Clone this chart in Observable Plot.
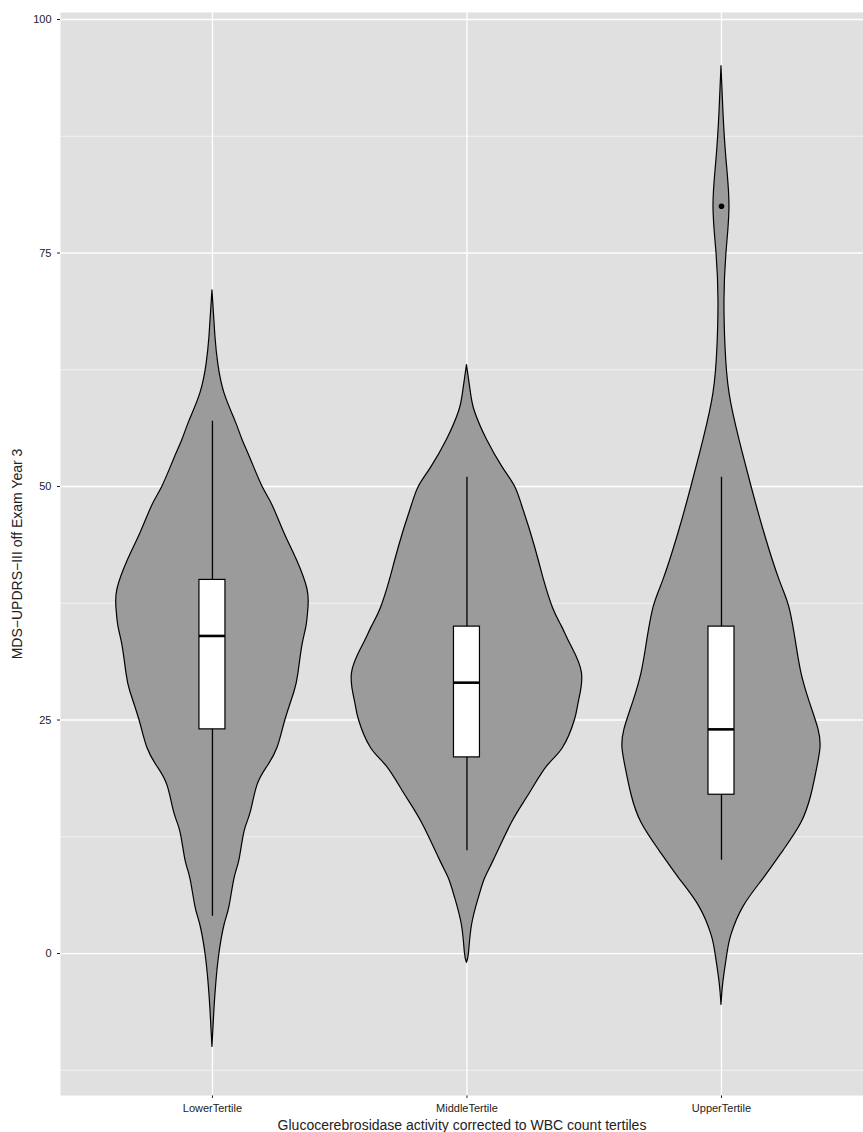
<!DOCTYPE html>
<html><head><meta charset="utf-8">
<script src="https://cdn.jsdelivr.net/npm/d3@7"></script>
<script src="https://cdn.jsdelivr.net/npm/@observablehq/plot@0.6"></script>
<style>body{margin:0;background:#fff;font-family:"Liberation Sans",Arial,sans-serif}
svg [aria-label$="axis label"] text{font-size:14px}</style>
</head><body><div id="chart"></div>
<script>
const categories = ["LowerTertile", "MiddleTertile", "UpperTertile"];
// violin outlines: [value, half-width in px]
const lowerViolin = [[-10,0],[-6,2],[-3,4],[0,7],[3,12],[5,17],[8,22],[10,27],[13,32],[15,38],[18,45],[20,55],[22,65],[25,73],[28,82],[30,86],[33,90],[35,94],[37,96],[39,95],[42,85],[45,72],[48,60],[50,50],[53,38],[55,30],[57,23],[60,12],[63,6],[66,3],[71,0]];
const middleViolin = [[-1,0],[0,2],[3,5],[6,12],[8,18],[10,27],[14,45],[17,62],[20,80],[22,96],[25,108],[27,112],[30,115],[33,104],[35,95],[37,86],[40,77],[42,72],[45,64],[48,55],[50,48],[52,36],[55,20],[58,8],[60,4],[63,0]];
const upperViolin = [[-5.5,0],[-3,2],[0,6],[2,10],[5,22],[8,42],[11,62],[14,80],[17,90],[20,96],[22,99],[24,97],[27,88],[30,80],[33,75],[37,68],[40,58],[45,43],[50,30],[55,18],[60,8],[65,4],[70,3],[75,5],[80,8],[85,5],[90,2],[95,0]];
const violins = [lowerViolin, middleViolin, upperViolin];
const whiskerLow = [4, 11, 10];
const whiskerHigh = [57, 51, 51];
const q1 = [24, 21, 17];
const q3 = [40, 35, 35];
const medians = [34, 29, 24];
const outliers = [{cat: 3, v: 80}];

const pxPerUnit = 254.5;
const violinData = violins.flatMap((vs, i) => vs.map(([v, w]) => ({cat: i + 1, v, w: w / pxPerUnit})));
const boxes = categories.map((c, i) => ({cat: i + 1, lo: whiskerLow[i], hi: whiskerHigh[i], q1: q1[i], q3: q3[i], med: medians[i]}));
const bw = 13 / pxPerUnit;

const chart = Plot.plot({
  width: 863, height: 1132,
  marginLeft: 60, marginRight: 0, marginTop: 12, marginBottom: 37,
  style: {fontFamily: "Liberation Sans, Arial, sans-serif", fontSize: "11px", color: "#222"},
  x: {domain: [0.403, 3.558], ticks: [1, 2, 3], tickFormat: d => categories[d - 1], tickSize: 3,
      label: "Glucocerebrosidase activity corrected to WBC count tertiles", labelArrow: "none", labelAnchor: "center", labelOffset: 34},
  y: {domain: [-15.2, 100.75], ticks: [0, 25, 50, 75, 100], tickSize: 3,
      label: "MDS−UPDRS−III off Exam Year 3", labelArrow: "none", labelAnchor: "center", labelOffset: 48},
  marks: [
    Plot.frame({fill: "#e0e0e0", stroke: null}),
    Plot.ruleY([-12.5, 12.5, 37.5, 62.5, 87.5], {stroke: "#fff", strokeWidth: 0.6}),
    Plot.ruleY([0, 25, 50, 75, 100], {stroke: "#fff", strokeWidth: 1.3}),
    Plot.ruleX([1, 2, 3], {stroke: "#fff", strokeWidth: 1.3}),
    Plot.areaX(violinData, {y: "v", x1: d => d.cat - d.w, x2: d => d.cat + d.w, z: "cat",
      fill: "#9b9b9b", stroke: "#000", strokeWidth: 1.2, curve: "natural"}),
    Plot.ruleX(boxes, {x: "cat", y1: "lo", y2: "hi", stroke: "#000", strokeWidth: 1.3}),
    Plot.rect(boxes, {x1: d => d.cat - bw, x2: d => d.cat + bw, y1: "q1", y2: "q3", fill: "#fff", stroke: "#000", strokeWidth: 1.2}),
    Plot.ruleY(boxes, {y: "med", x1: d => d.cat - bw, x2: d => d.cat + bw, stroke: "#000", strokeWidth: 2.6}),
    Plot.dot(outliers, {x: "cat", y: "v", r: 2.8, fill: "#000"})
  ]
});
document.getElementById("chart").append(chart);
</script></body></html>
